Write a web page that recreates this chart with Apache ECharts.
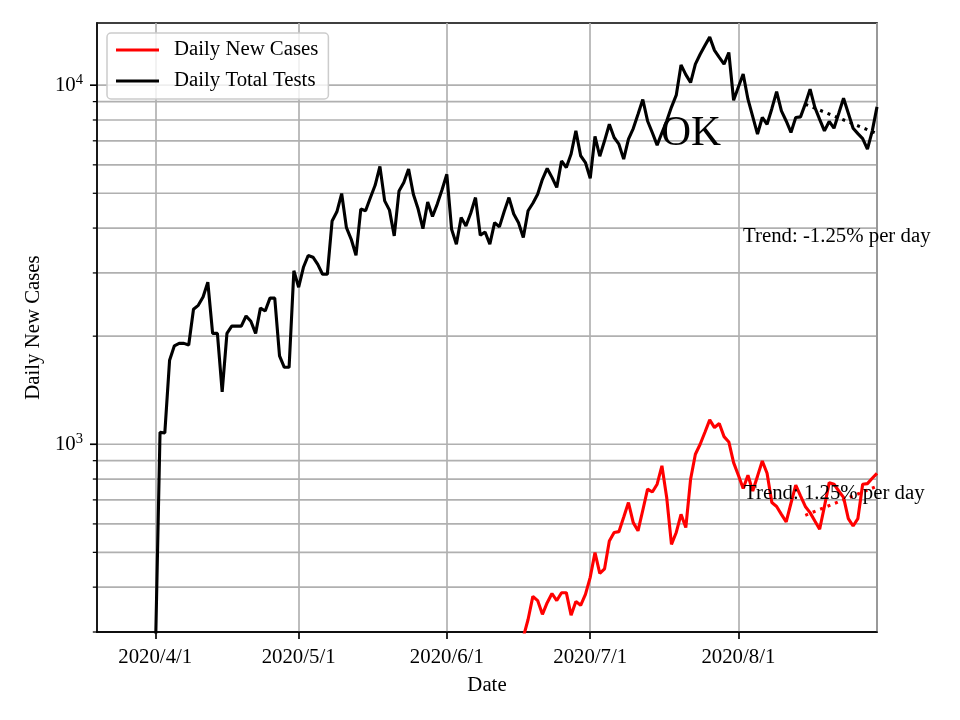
<!DOCTYPE html>
<html><head><meta charset="utf-8">
<script src="https://cdn.jsdelivr.net/npm/echarts@6/dist/echarts.min.js"></script>
<style>html,body{margin:0;padding:0;background:#fff}#c{width:960px;height:720px}</style>
</head><body><div id="c"></div>
<script>
const FONT = 'Liberation Serif';

// Daily Total Tests, one value per day starting 2020-04-01
const testsStart = '2020-04-01';
const dailyTotalTests = [
  250, 1080, 1075, 1715, 1880, 1910, 1910, 1890, 2376, 2437,
  2570, 2826, 2036, 2036, 1399, 2036, 2133, 2133, 2133, 2276,
  2201, 2036, 2394, 2350, 2553, 2553, 1763, 1638, 1638, 3042,
  2737, 3111, 3355, 3318, 3170, 2975, 2975, 4187, 4440, 4990,
  4010, 3722, 3359, 4518, 4470, 4860, 5263, 5940, 4763, 4487,
  3804, 5077, 5360, 5840, 4968, 4518, 3986, 4730, 4308, 4665,
  5112, 5647, 3972, 3608, 4280, 4055, 4400, 4864, 3820, 3900,
  3608, 4140, 4030, 4450, 4864, 4378, 4140, 3766, 4470, 4690,
  4968, 5468, 5862, 5537, 5191, 6153, 5900, 6430, 7460, 6360,
  6090, 5500, 7200, 6340, 7000, 7785, 7150, 6850, 6225, 7080,
  7570, 8300, 9125, 7950, 7370, 6810, 7370, 7950, 8690, 9380,
  11390, 10700, 10170, 11450, 12190, 12900, 13610, 12500, 11950, 11450,
  12330, 9080, 9880, 10740, 9140, 8170, 7310, 8130, 7785, 8600,
  9600, 8480, 7950, 7385, 8130, 8160, 8870, 9750, 8670, 8030,
  7460, 7925, 7590, 8350, 9200, 8350, 7590, 7330, 7100, 6640,
  7450, 8700
];

// Daily New Cases, one value per day starting 2020-06-17
const casesStart = '2020-06-17';
const dailyNewCases = [
  290, 325, 377, 367, 336, 362, 384, 367, 386, 386,
  334, 365, 356, 382, 426, 499, 437, 450, 538, 568,
  571, 626, 688, 605, 574, 655, 750, 736, 774, 871,
  711, 526, 568, 638, 586, 799, 938, 1000, 1080, 1169,
  1113, 1142, 1050, 1015, 889, 820, 753, 820, 741, 815,
  898, 830, 688, 671, 638, 608, 685, 769, 718, 671,
  645, 611, 580, 671, 782, 774, 741, 711, 621, 592,
  621, 774, 777, 804, 830
];

// Trend endpoints (last 15 days)
const testsTrend = [['2020-08-15', 8850], ['2020-08-30', 7330]];
const casesTrend = [['2020-08-15', 634], ['2020-08-30', 764]];

const yGridValues = [300, 400, 500, 600, 700, 800, 900, 1000,
  2000, 3000, 4000, 5000, 6000, 7000, 8000, 9000, 10000];
const yMajorValues = [1000, 10000];

const legendNames = ['Daily New Cases', 'Daily Total Tests'];
const annotations = ['OK', 'Trend: -1.25% per day', 'Trend: 1.25% per day'];

const xMin = new Date(2020, 2, 19, 19, 30).getTime();
const xMax = new Date(2020, 7, 30, 0, 0).getTime();
const yMin = 300, yMax = 14900;

function toTime(s) { const [y, m, d] = s.split('-').map(Number); return new Date(y, m - 1, d).getTime(); }
function daySeries(start, values) {
  const [y, m, d] = start.split('-').map(Number);
  return values.map((v, i) => [new Date(y, m - 1, d + i).getTime(), v]);
}

const chart = echarts.init(document.getElementById('c'), null, { renderer: 'canvas' });
const GRID_W = 1.67;
const option = {
  animation: false,
  backgroundColor: '#fff',
  textStyle: { fontFamily: FONT },
  grid: { left: 97, right: 83, top: 23, bottom: 88, show: true, borderColor: '#000', borderWidth: GRID_W, containLabel: false },
  legend: {
    data: legendNames,
    orient: 'vertical',
    left: 107, top: 33,
    icon: 'rect', itemWidth: 43, itemHeight: 3,
    itemGap: 9,
    padding: [6, 10, 7, 9],
    backgroundColor: 'rgba(255,255,255,0.8)',
    borderColor: '#cccccc', borderWidth: 1.5, borderRadius: 4,
    textStyle: { fontFamily: FONT, fontSize: 20.8, color: '#000', lineHeight: 22, padding: [0, 0, 0, 10] }
  },
  xAxis: {
    type: 'time', min: xMin, max: xMax,
    name: 'Date', nameLocation: 'middle', nameGap: 43,
    nameTextStyle: { fontFamily: FONT, fontSize: 20.8, color: '#000' },
    axisLine: { lineStyle: { color: '#000', width: GRID_W } },
    axisTick: { show: true, length: 7, lineStyle: { color: '#000', width: GRID_W } },
    axisLabel: {
      fontFamily: FONT, fontSize: 20.8, color: '#000', margin: 15,
      formatter: (v) => { const d = new Date(v); return d.getFullYear() + '/' + (d.getMonth() + 1) + '/' + d.getDate(); }
    },
    splitLine: { show: true, lineStyle: { color: '#b0b0b0', width: GRID_W } },
    minInterval: 28 * 86400000
  },
  yAxis: {
    type: 'log', logBase: 10, min: yMin, max: yMax,
    name: 'Daily New Cases', nameLocation: 'middle', nameGap: 52, nameRotate: 90,
    nameTextStyle: { fontFamily: FONT, fontSize: 20.8, color: '#000' },
    axisLine: { show: true, lineStyle: { color: '#000', width: GRID_W } },
    axisTick: { show: false },
    splitLine: { show: false },
    axisLabel: {
      margin: 14,
      formatter: (v) => {
        const e = Math.round(Math.log10(v));
        if (Math.abs(v - Math.pow(10, e)) < 1e-6 * v) return '{b|10}{e|' + e + '}';
        return '';
      },
      rich: {
        b: { fontFamily: FONT, fontSize: 20.8, lineHeight: 21, color: '#000', verticalAlign: 'bottom', padding: [0, 0, 0, 0] },
        e: { fontFamily: FONT, fontSize: 14.6, lineHeight: 15, color: '#000', verticalAlign: 'bottom', padding: [0, 0, 8, 0] }
      }
    }
  },
  series: [
    {
      type: 'custom', name: 'ygrid', silent: true, z: 1, clip: false,
      data: yGridValues.map(v => [xMin, v]),
      renderItem: (params, api) => {
        const v = api.value(1);
        const p0 = api.coord([xMin, v]);
        const p1 = api.coord([xMax, v]);
        const major = yMajorValues.indexOf(v) >= 0;
        const len = major ? 7 : 4.2;
        const children = [{
          type: 'line', shape: { x1: p0[0] - len, y1: p0[1], x2: p0[0], y2: p0[1] },
          style: { stroke: '#000', lineWidth: major ? GRID_W : 1.25 }
        }];
        if (v !== yMin) {
          children.push({
            type: 'line', shape: { x1: p0[0] + 1, y1: p0[1], x2: p1[0] - 1, y2: p1[1] },
            style: { stroke: '#b0b0b0', lineWidth: GRID_W }
          });
        }
        return { type: 'group', children };
      }
    },
    {
      name: legendNames[0], type: 'line', data: daySeries(casesStart, dailyNewCases),
      color: '#ff0000', symbol: 'none', z: 3,
      lineStyle: { color: '#ff0000', width: 3.1 }
    },
    {
      name: legendNames[1], type: 'line', data: daySeries(testsStart, dailyTotalTests),
      color: '#000000', symbol: 'none', z: 3,
      lineStyle: { color: '#000000', width: 3.1 }
    },
    {
      name: 'testsTrend', type: 'line', data: testsTrend.map(p => [toTime(p[0]), p[1]]),
      symbol: 'none', z: 4, silent: true,
      lineStyle: { color: '#000000', width: 3.1, type: [3, 5], cap: 'butt' }
    },
    {
      name: 'casesTrend', type: 'line', data: casesTrend.map(p => [toTime(p[0]), p[1]]),
      symbol: 'none', z: 4, silent: true,
      lineStyle: { color: '#ff0000', width: 3.1, type: [3, 5], cap: 'butt' }
    }
  ],
  graphic: [
    { type: 'text', x: 661, y: 134.5, z: 10, style: { text: annotations[0], font: '41.6px "Liberation Serif"', fill: '#000', verticalAlign: 'middle', align: 'left' } },
    { type: 'text', x: 743, y: 237, z: 10, style: { text: annotations[1], font: '20.8px "Liberation Serif"', fill: '#000', verticalAlign: 'middle', align: 'left' } },
    { type: 'text', x: 744, y: 493.5, z: 10, style: { text: annotations[2], font: '20.8px "Liberation Serif"', fill: '#000', verticalAlign: 'middle', align: 'left' } }
  ]
};
chart.setOption(option);
</script>
</body></html>
